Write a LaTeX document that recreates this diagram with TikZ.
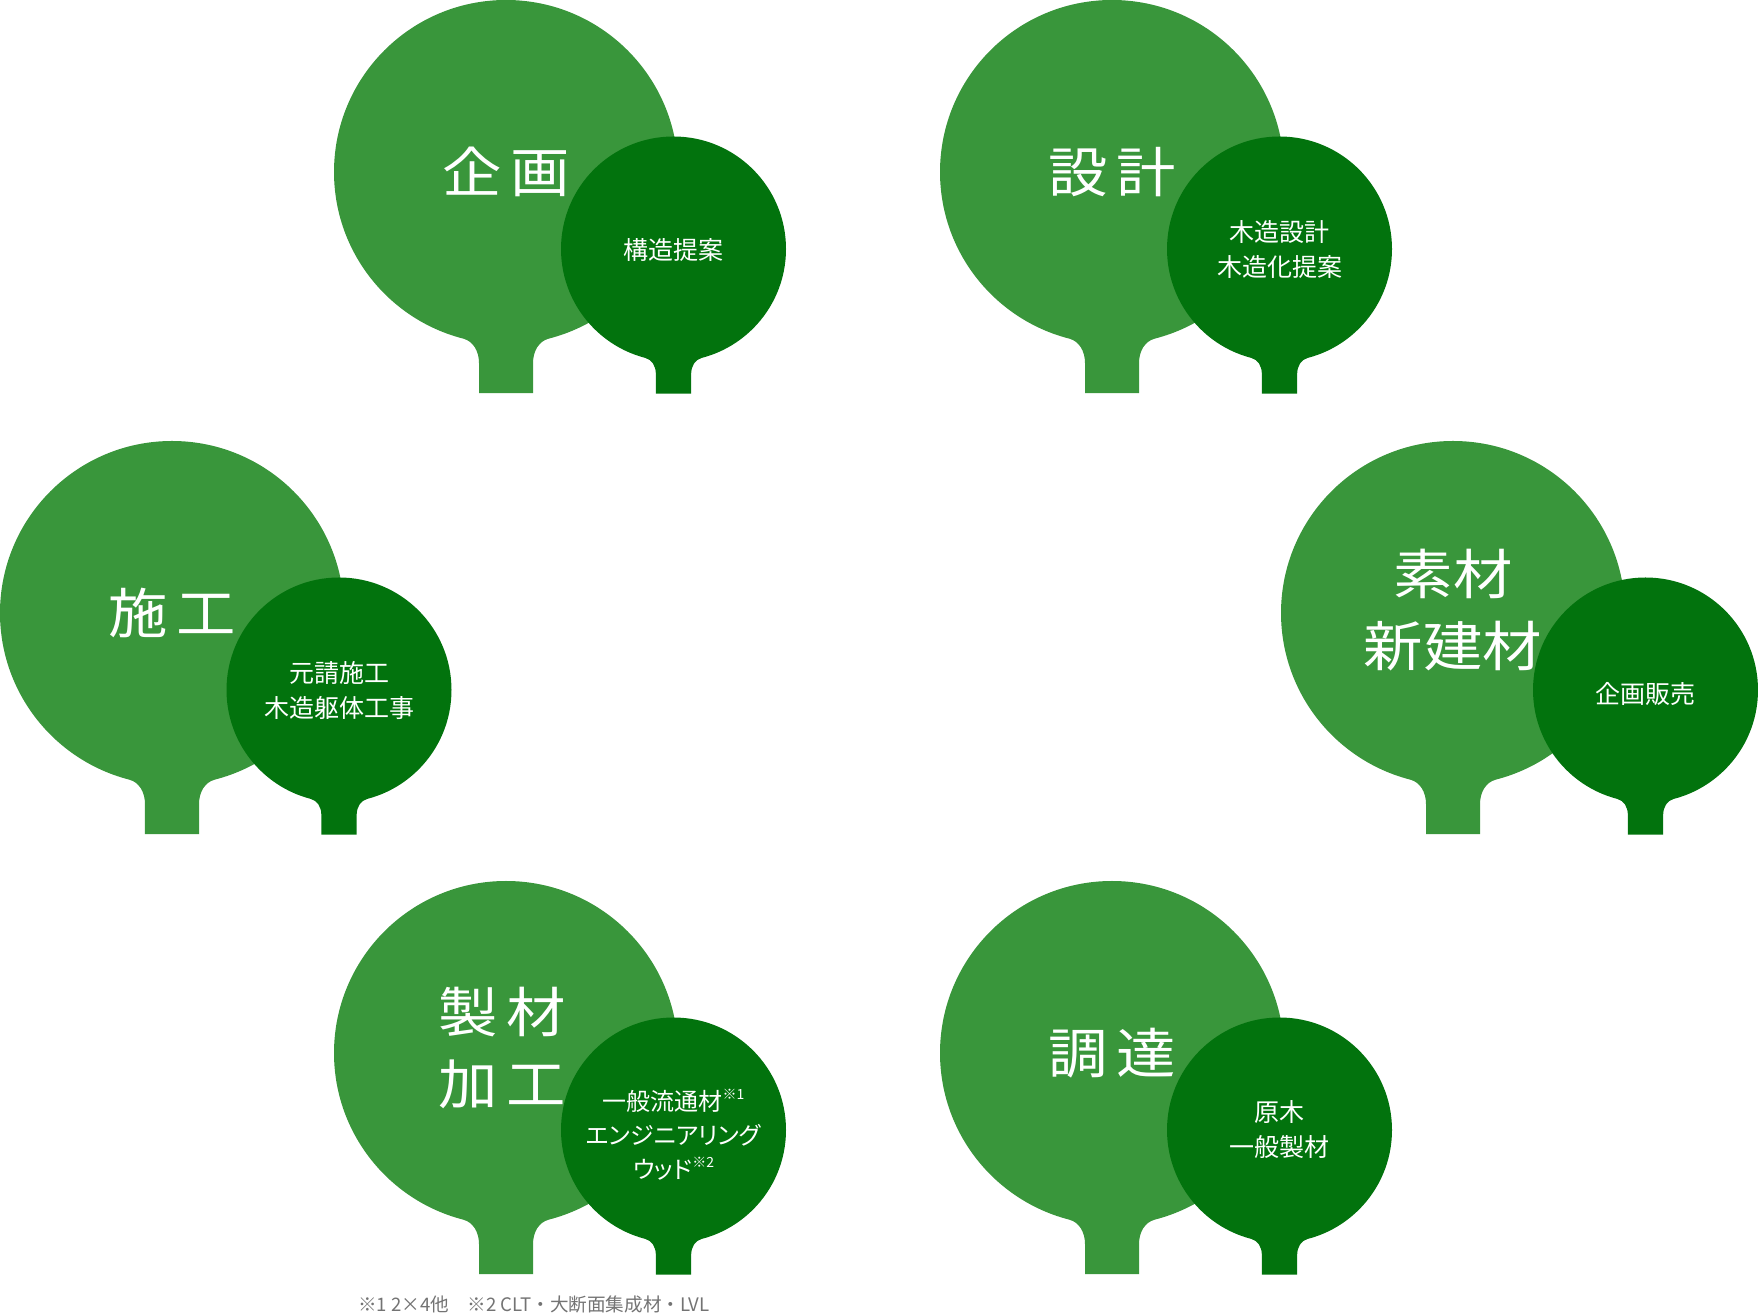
\documentclass[tikz,border=0pt]{standalone}
\usepackage{fontspec}
\setmainfont{Noto Sans CJK JP}
\newfontfamily\bigfont[FakeStretch=1.1]{Noto Sans CJK JP}
\newfontfamily\widefont[FakeStretch=1.1,LetterSpace=15]{Noto Sans CJK JP}
\newfontfamily\smallfont[RawFeature=+palt]{Noto Sans CJK JP}
\usepackage{xcolor}
\usepackage{tikz}

\definecolor{leafgreen}{HTML}{39963B}
\definecolor{deepgreen}{HTML}{02730D}
\definecolor{notegray}{HTML}{737373}

% one round tree: centre x, centre y, radius, colour
\newcommand{\treeshape}[4]{%
  \fill[#4] (#1,#2) circle (#3);
  \fill[#4, shift={(#1,#2)}, scale=#3] (255.5:1)
    .. controls (-0.192,-0.983) and (-0.157,-1.04) .. (-0.157,-1.111)
    -- (-0.157,-1.285) -- (0.157,-1.285) -- (0.157,-1.111)
    .. controls (0.157,-1.04) and (0.192,-0.983) .. (284.5:1) -- cycle;
}
\newcommand{\kome}[1]{\raisebox{0.45em}{\fontsize{14}{14}\selectfont ※#1}}

\tikzset{
  bigtext/.style={text=white, align=center, inner sep=0pt, font=\bigfont\fontsize{54}{72}\selectfont},
  widetext/.style={bigtext, font=\widefont\fontsize{54}{72}\selectfont},
  smalltext/.style={text=white, align=center, inner sep=0pt, font=\smallfont\fontsize{25}{35}\selectfont},
  notetext/.style={text=notegray, inner sep=0pt, font=\fontsize{18.6}{20}\selectfont}
}

\begin{document}
\begin{tikzpicture}[x=1pt, y=1pt]
    \useasboundingbox (0,0) rectangle (1758,1314);

    % trees
    \treeshape{506}{1142}{172}{leafgreen}
    \treeshape{673.5}{1065}{112.5}{deepgreen}
    \treeshape{1112}{1142}{172}{leafgreen}
    \treeshape{1279.5}{1065}{112.5}{deepgreen}
    \treeshape{172}{701}{172}{leafgreen}
    \treeshape{339}{624}{112.5}{deepgreen}
    \treeshape{1453}{701}{172}{leafgreen}
    \treeshape{1645.5}{624}{112.5}{deepgreen}
    \treeshape{506}{261}{172}{leafgreen}
    \treeshape{673.5}{184}{112.5}{deepgreen}
    \treeshape{1112}{261}{172}{leafgreen}
    \treeshape{1279.5}{184}{112.5}{deepgreen}

    % labels
    \node (kikaku) at (506,1142) [widetext] {企画};
    \node (kozo) at (673.5,1064) [smalltext] {構造提案};
    \node (sekkei) at (1112,1142) [widetext] {設計};
    \node (mokuzo) at (1279.5,1064) [smalltext] {木造設計\\木造化提案};
    \node (sekou) at (172,701) [widetext] {施工};
    \node (motouke) at (339,623) [smalltext] {元請施工\\木造躯体工事};
    \node (sozai) at (1453,704) [bigtext] {素材\\新建材};
    \node (hanbai) at (1645.5,620) [smalltext] {企画販売};
    \node (seizai) at (502,266) [widetext] {製材\\加工};
    \node (ippan) at (673.5,179) [smalltext, font=\smallfont\fontsize{24}{34}\selectfont] {一般流通材\kome{1}\\エンジニアリング\\ウッド\kome{2}};
    \node (chotatsu) at (1112,261) [widetext] {調達};
    \node (genboku) at (1279.5,184) [smalltext] {原木\\一般製材};

    \node (notes) at (534,10) [notetext] {※1 2×4他　※2 CLT・大断面集成材・LVL};
\end{tikzpicture}
\end{document}
